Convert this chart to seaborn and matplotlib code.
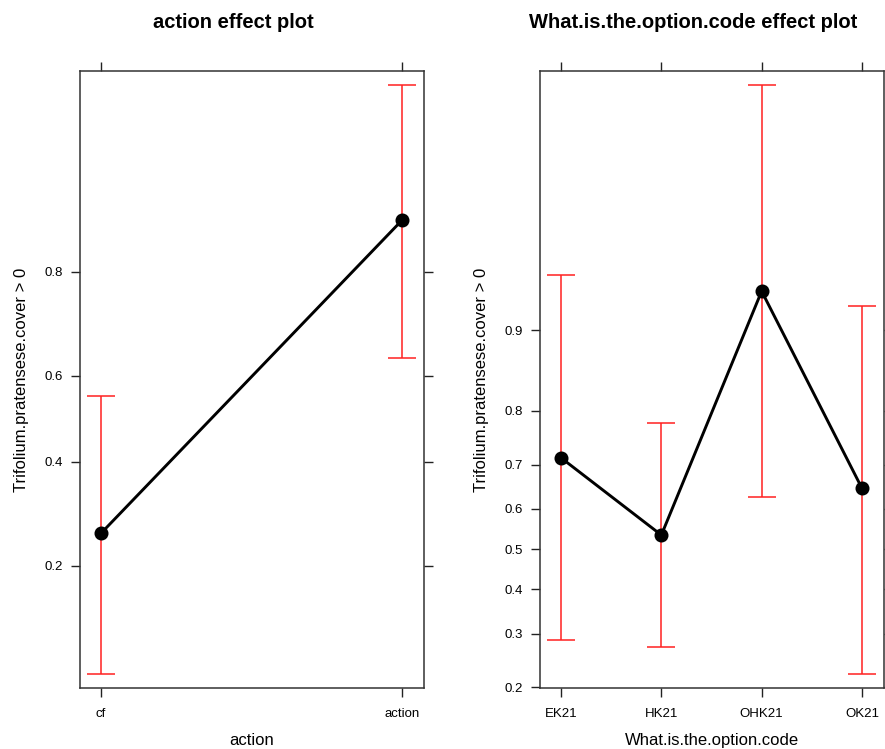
import numpy as np
import pandas as pd
import matplotlib
matplotlib.use("Agg")
import matplotlib.pyplot as plt
from matplotlib.ticker import NullLocator, FixedLocator, FixedFormatter
import seaborn as sns

# ---- data ----
action_levels = ["cf", "action"]
action_fit = [0.254, 0.867]
action_lower = [0.083, 0.640]
action_upper = [0.554, 0.959]

option_levels = ["EK21", "HK21", "OHK21", "OK21"]
option_fit = [0.714, 0.535, 0.930, 0.648]
option_lower = [0.286, 0.272, 0.628, 0.222]
option_upper = [0.940, 0.780, 0.9906, 0.920]

left_yticks = [0.2, 0.4, 0.6, 0.8]
right_yticks = [0.2, 0.3, 0.4, 0.5, 0.6, 0.7, 0.8, 0.9]

ylabel = "Trifolium.pratensese.cover > 0"

sns.set_theme(style="white")
plt.rcParams["font.family"] = ["Liberation Sans", "DejaVu Sans"]
plt.rcParams["text.color"] = "black"
plt.rcParams["axes.labelcolor"] = "black"
plt.rcParams["xtick.color"] = "black"
plt.rcParams["ytick.color"] = "black"

W, H = 885, 749
fig = plt.figure(figsize=(W / 100, H / 100), dpi=100)

def px_axes(x0, y0, x1, y1):
    return fig.add_axes([x0 / W, 1 - y1 / H, (x1 - x0) / W, (y1 - y0) / H])

ax1 = px_axes(80, 71, 424, 688)
ax2 = px_axes(540, 71, 884, 688)


def draw_panel(ax, levels, fit, lower, upper, yticks, ylim, xpad, xlabel):
    df = pd.DataFrame({"level": levels, "fit": fit})
    lo = np.array(fit) - np.array(lower)
    hi = np.array(upper) - np.array(fit)
    ax.errorbar(np.arange(len(levels)), fit, yerr=[lo, hi], fmt="none",
                ecolor="#ff2020", elinewidth=1.1, capsize=10, capthick=1.1,
                zorder=2)
    sns.pointplot(data=df, x="level", y="fit", order=levels, color="black",
                  errorbar=None, markers="o", markersize=8.5, linewidth=2.1,
                  ax=ax, zorder=3)
    ax.set_yscale("logit")
    ax.set_ylim(*ylim)
    ax.yaxis.set_major_locator(FixedLocator(yticks))
    ax.yaxis.set_major_formatter(FixedFormatter([f"{t:g}" for t in yticks]))
    ax.yaxis.set_minor_locator(NullLocator())
    ax.set_xlim(-xpad[0], len(levels) - 1 + xpad[1])
    ax.set_xticks(range(len(levels)))
    ax.set_xticklabels(levels)
    ax.tick_params(axis="both", which="major", direction="out", length=6.5,
                   width=1, color="#222222", labelsize=9.5,
                   top=True, right=True, bottom=True, left=True,
                   labeltop=False, labelright=False)
    ax.tick_params(axis="x", pad=8)
    ax.tick_params(axis="y", pad=6)
    for sp in ax.spines.values():
        sp.set_color("#333333")
        sp.set_linewidth(1.1)
        sp.set_visible(True)
    ax.set_xlabel(xlabel, fontsize=12, labelpad=9)
    ax.set_ylabel(ylabel, fontsize=12, labelpad=11)
    ax.grid(False)


draw_panel(ax1, action_levels, action_fit, action_lower, action_upper,
           left_yticks, (0.0733, 0.9638), (0.07, 0.073), "action")
draw_panel(ax2, option_levels, option_fit, option_lower, option_upper,
           right_yticks, (0.1988, 0.9918), (0.21, 0.22),
           "What.is.the.option.code")

fig.text(233 / W, 1 - 22 / H, "action effect plot", ha="center", va="center",
         fontsize=14.5, fontweight="bold")
fig.text(693 / W, 1 - 22 / H, "What.is.the.option.code effect plot",
         ha="center", va="center", fontsize=14.5, fontweight="bold")

fig.savefig("out.png", dpi=100, facecolor="white")
